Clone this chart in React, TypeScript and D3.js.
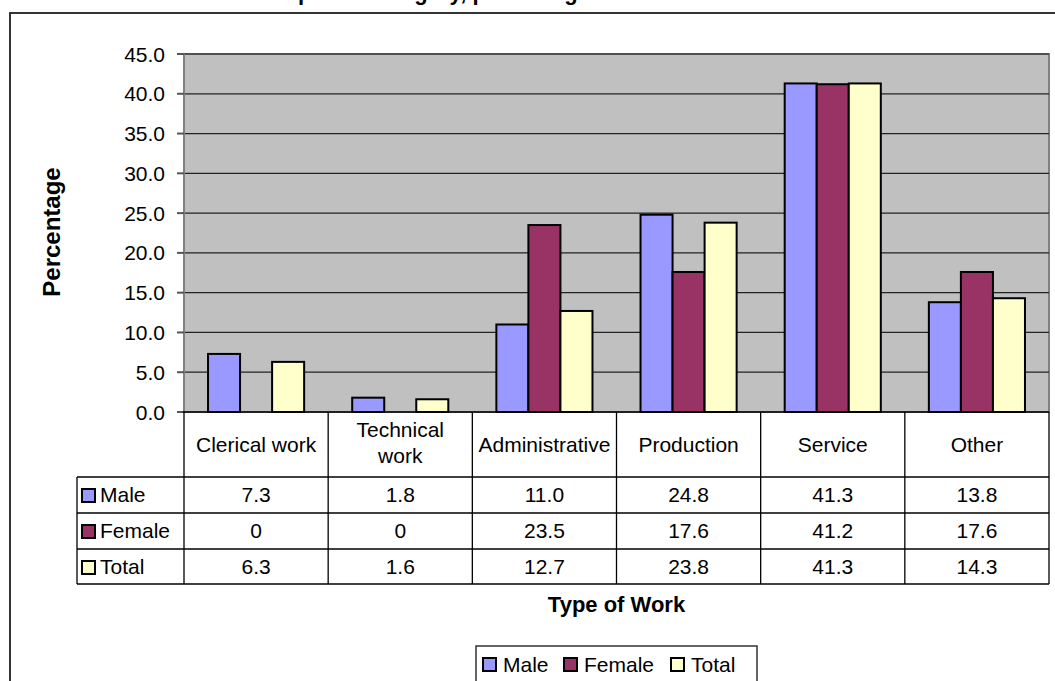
import React from "react";
import * as d3 from "d3";

const categories: string[][] = [
  ["Clerical work"],
  ["Technical", "work"],
  ["Administrative"],
  ["Production"],
  ["Service"],
  ["Other"],
];
const seriesNames = ["Male", "Female", "Total"];
const male = [7.3, 1.8, 11.0, 24.8, 41.3, 13.8];
const female = [0, 0, 23.5, 17.6, 41.2, 17.6];
const total = [6.3, 1.6, 12.7, 23.8, 41.3, 14.3];
const tableLabels = [
  ["7.3", "1.8", "11.0", "24.8", "41.3", "13.8"],
  ["0", "0", "23.5", "17.6", "41.2", "17.6"],
  ["6.3", "1.6", "12.7", "23.8", "41.3", "14.3"],
];
const yTicks = [0, 5, 10, 15, 20, 25, 30, 35, 40, 45];
const colors = ["#9999FF", "#993366", "#FFFFCC"];
const title = "Occupation category, percentage";
const xTitle = "Type of Work";
const yTitle = "Percentage";

const FONT = "'Liberation Sans', Arial, Helvetica, sans-serif";

export default function App() {
  const W = 1055;
  const H = 681;
  const plotL = 184;
  const plotR = 1049;
  const plotT = 54;
  const plotB = 412;
  const series = [male, female, total];

  const y = d3.scaleLinear().domain([0, 45]).range([plotB, plotT]);
  const x = d3
    .scaleBand<number>()
    .domain(d3.range(categories.length))
    .range([plotL, plotR]);
  const catW = x.bandwidth();
  const bw = catW / 4.5;

  const rowLines = [477, 513, 549, 584];
  const rowBase = [502, 538, 574];
  const tableLeft = 77;

  return (
    <svg
      width={W}
      height={H}
      style={{ position: "absolute", left: 0, top: 0, background: "#fff" }}
      fontFamily={FONT}
    >
      {/* outer border */}
      <rect x={10} y={13} width={1100} height={800} fill="none" stroke="#333" strokeWidth={2} />
      {/* title (cut off at the top edge, as in the reference) */}
      <text x={243} y={0} fontSize={22} fontWeight="bold">
        {title}
      </text>

      {/* plot area */}
      <rect x={plotL} y={plotT} width={plotR - plotL} height={plotB - plotT} fill="#C0C0C0" stroke="#808080" strokeWidth={2} />
      {yTicks.slice(1).map((t) => (
        <line key={t} x1={plotL} x2={plotR} y1={y(t)} y2={y(t)} stroke="#222" strokeWidth={1.2} />
      ))}

      {/* bars */}
      {categories.map((_, ci) =>
        series.map((s, si) =>
          s[ci] > 0 ? (
            <rect
              key={ci + "-" + si}
              x={(x(ci) as number) + 0.75 * bw + si * bw}
              y={y(s[ci])}
              width={bw}
              height={plotB - y(s[ci])}
              fill={colors[si]}
              stroke="#000"
              strokeWidth={2}
            />
          ) : null
        )
      )}

      {/* y axis */}
      <line x1={plotL} x2={plotL} y1={plotT} y2={plotB} stroke="#808080" strokeWidth={2} />
      {yTicks.map((t) => (
        <g key={t}>
          <line x1={177} x2={plotL} y1={y(t)} y2={y(t)} stroke="#555" strokeWidth={2} />
          <text x={165} y={y(t)} dy="0.36em" textAnchor="end" fontSize={21}>
            {d3.format(".1f")(t)}
          </text>
        </g>
      ))}
      <text
        transform={`translate(60,232) rotate(-90)`}
        textAnchor="middle"
        fontSize={24}
        fontWeight="bold"
      >
        {yTitle}
      </text>

      {/* data table */}
      <g stroke="#000" strokeWidth={1.3}>
        <line x1={plotL - 1} x2={plotR} y1={plotB} y2={plotB} />
        {d3.range(categories.length + 1).map((i) => {
          const xx = i < categories.length ? (x(i) as number) : plotR;
          return <line key={i} x1={xx} x2={xx} y1={plotB} y2={rowLines[3]} />;
        })}
        <line x1={tableLeft} x2={tableLeft} y1={rowLines[0]} y2={rowLines[3]} />
        {rowLines.map((ry) => (
          <line key={ry} x1={tableLeft} x2={plotR} y1={ry} y2={ry} />
        ))}
      </g>
      {categories.map((lines, ci) => {
        const cx = (x(ci) as number) + catW / 2;
        if (lines.length === 1) {
          return (
            <text key={ci} x={cx} y={452} textAnchor="middle" fontSize={21}>
              {lines[0]}
            </text>
          );
        }
        return (
          <text key={ci} x={cx} textAnchor="middle" fontSize={21}>
            <tspan x={cx} y={437}>{lines[0]}</tspan>
            <tspan x={cx} y={463}>{lines[1]}</tspan>
          </text>
        );
      })}
      {seriesNames.map((name, si) => (
        <g key={name}>
          <rect x={82} y={rowBase[si] - 13} width={13} height={13} fill={colors[si]} stroke="#000" strokeWidth={2} />
          <text x={100} y={rowBase[si]} fontSize={21}>
            {name}
          </text>
          {tableLabels[si].map((v, ci) => (
            <text key={ci} x={(x(ci) as number) + catW / 2} y={rowBase[si]} textAnchor="middle" fontSize={21}>
              {v}
            </text>
          ))}
        </g>
      ))}

      {/* x title */}
      <text x={(plotL + plotR) / 2} y={612} textAnchor="middle" fontSize={22} fontWeight="bold">
        {xTitle}
      </text>

      {/* legend */}
      <rect x={476} y={646} width={281} height={60} fill="#fff" stroke="#333" strokeWidth={1.5} />
      {seriesNames.map((name, si) => {
        const kx = [483, 564, 671][si];
        return (
          <g key={name}>
            <rect x={kx} y={658} width={13} height={13} fill={colors[si]} stroke="#000" strokeWidth={2} />
            <text x={kx + 20} y={672} fontSize={21}>
              {name}
            </text>
          </g>
        );
      })}
    </svg>
  );
}
